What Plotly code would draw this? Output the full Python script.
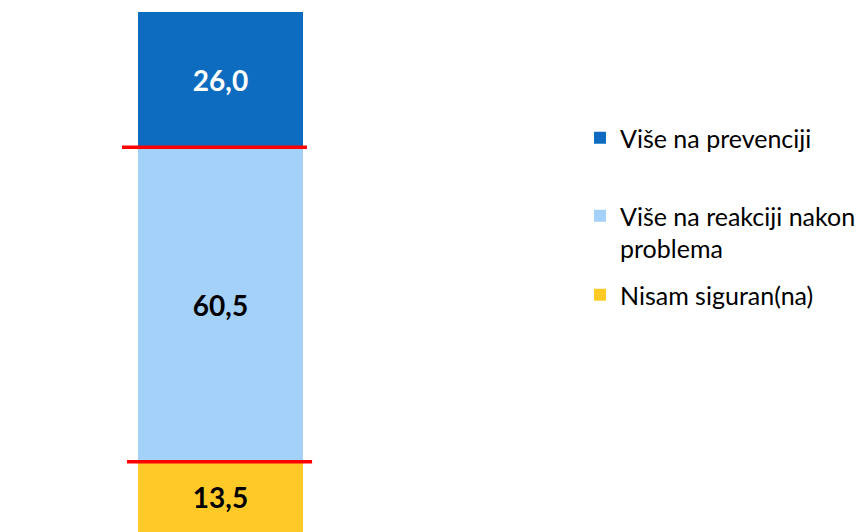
import plotly.graph_objects as go

# Data (stacked from bottom to top)
categories = ["Odgovor"]
series_names = ["Nisam siguran(na)", "Više na reakciji nakon problema", "Više na prevenciji"]
legend_labels = ["Nisam siguran(na)", "Više na reakciji nakon<br>problema", "Više na prevenciji"]
values_nisam = [13.5]
values_reakcija = [60.5]
values_prevencija = [26.0]
series_values = [values_nisam, values_reakcija, values_prevencija]
colors = ["#FFCA28", "#A4D1F8", "#0E6CC0"]
text_colors = ["#000000", "#000000", "#FFFFFF"]
legend_ids = ["legend3", "legend2", "legend"]

W, H = 860, 524

fig = go.Figure()
for name, lab, vals, col, tcol, lg in zip(series_names, legend_labels, series_values, colors, text_colors, legend_ids):
    fig.add_trace(go.Bar(
        x=categories, y=vals, name=lab, marker=dict(color=col, line=dict(width=0)),
        texttemplate="%{y:.1f}", textposition="inside", insidetextanchor="middle",
        textangle=0, constraintext="none",
        textfont=dict(family="Lato", size=28, color=tcol, weight="bold"),
        legend=lg, hoverinfo="skip",
    ))

# Red separator lines at segment boundaries
b1 = values_nisam[0]
b2 = values_nisam[0] + values_reakcija[0]
fig.add_shape(type="line", xref="paper", yref="y", x0=-0.097, x1=1.024, y0=b2, y1=b2,
              line=dict(color="#FF0000", width=3.5))
fig.add_shape(type="line", xref="paper", yref="y", x0=-0.067, x1=1.055, y0=b1, y1=b1,
              line=dict(color="#FF0000", width=3.5))

lfont = dict(family="Lato", size=25, color="#000000")
lx = 572 / W
fig.update_layout(
    width=W, height=H,
    margin=dict(l=130, r=W - 295, t=4, b=0),
    paper_bgcolor="white", plot_bgcolor="white",
    barmode="stack", bargap=0,
    separators=",.",
    xaxis=dict(visible=False),
    yaxis=dict(visible=False, range=[0, 100]),
    showlegend=True,
    legend=dict(xref="container", yref="container", x=lx, y=1 - 130 / H,
                xanchor="left", yanchor="middle", font=lfont, bgcolor="rgba(0,0,0,0)"),
    legend2=dict(xref="container", yref="container", x=lx, y=1 - 185 / H,
                 xanchor="left", yanchor="top", font=lfont, valign="top", bgcolor="rgba(0,0,0,0)"),
    legend3=dict(xref="container", yref="container", x=lx, y=1 - 287 / H,
                 xanchor="left", yanchor="middle", font=lfont, bgcolor="rgba(0,0,0,0)"),
)

fig.write_html("out.html")
